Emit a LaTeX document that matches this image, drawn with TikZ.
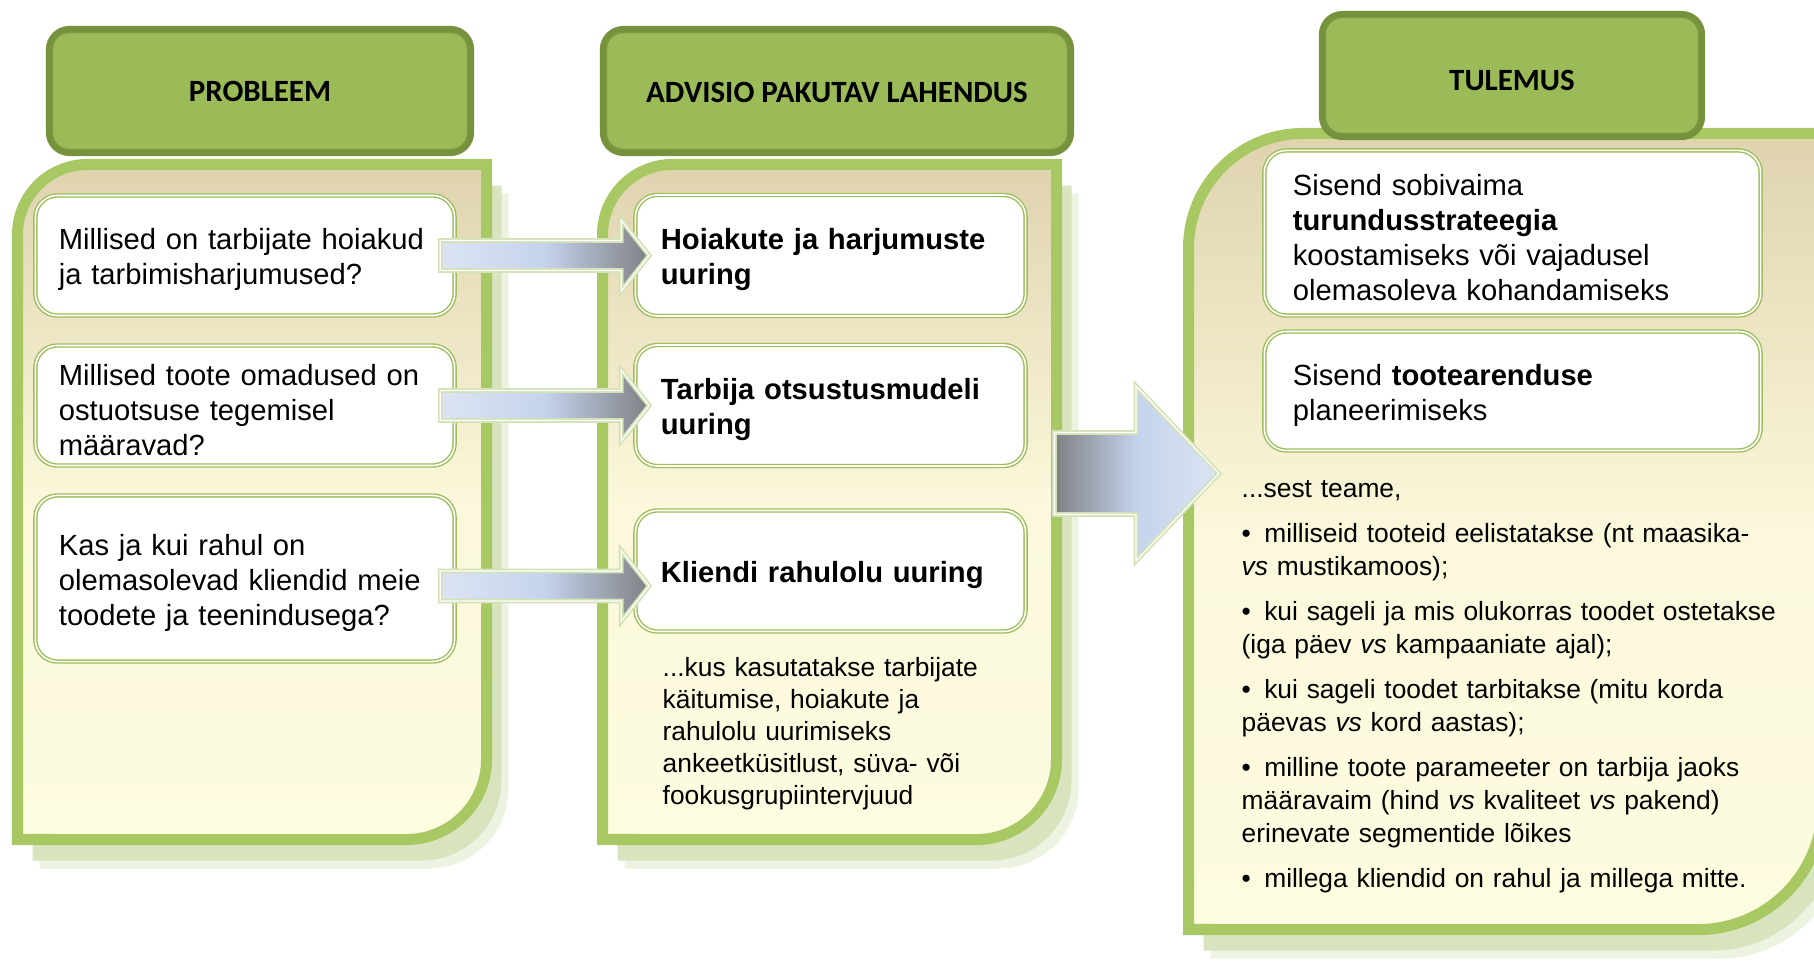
\documentclass[tikz,border=0pt]{standalone}
\usepackage{fontspec}
\setmainfont{Liberation Sans}
\newfontfamily\headfont{Carlito}
\usetikzlibrary{calc,shadows}
\definecolor{headgreen}{HTML}{9BBB59}
\definecolor{headdark}{HTML}{76923C}
\definecolor{panelline}{HTML}{A8C864}
\definecolor{cardline}{HTML}{9EBE5C}
\definecolor{shadowgreen}{HTML}{D7E4BD}
\definecolor{paneltop}{HTML}{DFD3AE}
\definecolor{panelbot}{HTML}{FEFCE0}
\definecolor{arrowline}{HTML}{D3E2B6}
\definecolor{arrowlight}{HTML}{DCE4F3}
\definecolor{arrowmid}{HTML}{C4D3EC}
\definecolor{arrowgrey}{HTML}{7F8084}

\begin{document}
\begin{tikzpicture}[x=0.01cm,y=0.01cm,
  panel/.style={draw=panelline, line width=0.11cm, top color=paneltop, bottom color=panelbot,
    middle color=panelbot!90!paneltop,
    drop shadow={shadow xshift=0.22cm, shadow yshift=-0.29cm, fill=shadowgreen, opacity=0.45},
    drop shadow={shadow xshift=0.15cm, shadow yshift=-0.21cm, fill=shadowgreen, opacity=1}},
  head/.style={rectangle, rounded corners=0.2cm, fill=headgreen, draw=headdark, line width=0.07cm,
    minimum height=1.23cm, font=\headfont\bfseries\fontsize{8.8}{10}\selectfont},
  headin/.style={draw=headdark!85!headgreen, line width=0.4pt, rounded corners=0.15cm},
  card/.style={rectangle, rounded corners=0.22cm, draw=cardline, double=white, double distance=0.45pt,
    line width=0.4pt, fill=white, align=left, inner ysep=0pt, font=\fontsize{8.3}{10}\selectfont,
    execute at begin node={\rule{0pt}{8.5pt}}},
  leftcard/.style={card, text width=3.72cm, inner xsep=0.235cm, minimum height=1.2cm},
  midcard/.style={card, text width=3.39cm, inner xsep=0.255cm, minimum height=1.21cm},
  rightcard/.style={card, text width=4.39cm, inner xsep=0.285cm, minimum height=1.19cm},
  note/.style={align=left, inner sep=0pt, font=\fontsize{7.5}{9.1}\selectfont},
  arrowbase/.style={draw=arrowline, double=white, double distance=0.35pt, line width=0.5pt},
  smallarrow/.style={arrowbase, left color=arrowlight, right color=arrowgrey, middle color=arrowmid,
    to path={let \p1=(\tikztostart), \p2=(\tikztotarget) in
      (\x1,\y1+0.15cm) -- (\x2-0.28cm,\y1+0.15cm) -- (\x2-0.28cm,\y1+0.355cm) -- (\x2,\y1)
      -- (\x2-0.28cm,\y1-0.355cm) -- (\x2-0.28cm,\y1-0.15cm) -- (\x1,\y1-0.15cm) -- cycle}},
  bigarrow/.style={arrowbase, left color=arrowgrey, right color=arrowlight, middle color=arrowmid,
    to path={let \p1=(\tikztostart), \p2=(\tikztotarget) in
      (\x1,\y1+0.41cm) -- (\x2-0.83cm,\y1+0.41cm) -- (\x2-0.83cm,\y1+0.875cm) -- (\x2,\y1)
      -- (\x2-0.83cm,\y1-0.875cm) -- (\x2-0.83cm,\y1-0.41cm) -- (\x1,\y1-0.41cm) -- cycle}}
]
\useasboundingbox (0,0) rectangle (1814,-961);

% columns
\draw[panel] (17.5,-839.5) -- (17.5,-234.5) arc[start angle=180, end angle=90, radius=0.7cm]
  -- (486.5,-164.5) -- (486.5,-759.5) arc[start angle=0, end angle=-90, radius=0.8cm] -- cycle;
\draw[panel] (602.5,-839.5) -- (602.5,-234.5) arc[start angle=180, end angle=90, radius=0.7cm]
  -- (1056.5,-164.5) -- (1056.5,-759.5) arc[start angle=0, end angle=-90, radius=0.8cm] -- cycle;
\draw[panel] (1188.5,-929.5) -- (1188.5,-248) arc[start angle=180, end angle=90, radius=1.145cm]
  -- (1822.5,-133.5) -- (1822.5,-805) arc[start angle=0, end angle=-90, radius=1.245cm] -- cycle;

% headings
\node[head, minimum width=4.21cm] (h1) at (260,-91) {PROBLEEM};
\node[head, minimum width=4.67cm] (h2) at (837,-91) {\raisebox{-0.5pt}[\height][\depth]{ADVISIO PAKUTAV LAHENDUS}};
\node[head, minimum width=3.79cm, minimum height=1.22cm] (h3) at (1512,-75.5) {\raisebox{-1.3pt}[\height][\depth]{TULEMUS}};
\foreach \h in {h1,h2,h3}
  \draw[headin] ([shift={(0.065cm,-0.065cm)}]\h.north west) rectangle ([shift={(-0.065cm,0.065cm)}]\h.south east);

% problem cards
\node[leftcard] (p1) at (245,-255.5) {Millised on tarbijate hoiakud\\ja tarbimisharjumused?};
\node[leftcard] (p2) at (245,-405.5) {Millised toote omadused on\\ostuotsuse tegemisel\\määravad?};
\node[leftcard, minimum height=1.66cm] (p3) at (245,-578.5) {Kas ja kui rahul on\\olemasolevad kliendid meie\\toodete ja teenindusega?};

% solution cards
\node[midcard] (s1) at (830.5,-255.5) {\textbf{Hoiakute ja harjumuste}\\\textbf{uuring}};
\node[midcard] (s2) at (830.5,-405.5) {\textbf{Tarbija otsustusmudeli}\\\textbf{uuring}};
\node[midcard] (s3) at (830.5,-571) {\textbf{Kliendi rahulolu uuring}};
\node[note, anchor=west, text width=3.4cm] (n2) at (662,-734) {...kus kasutatakse tarbijate\\käitumise, hoiakute ja\\rahulolu uurimiseks\\ankeetküsitlust, süva- või\\fookusgrupiintervjuud};

% result cards
\node[rightcard, minimum height=1.65cm] (t1) at (1512.5,-233) {Sisend sobivaima\\\textbf{turundusstrateegia}\\koostamiseks või vajadusel\\olemasoleva kohandamiseks};
\node[rightcard] (t2) at (1512.5,-391) {Sisend \textbf{tootearenduse}\\planeerimiseks};
\node[note, anchor=west, text width=5.6cm, font=\fontsize{7.5}{9.4}\selectfont] (n3) at (1241,-687) {...sest teame,\\[3.4pt]
\textbullet\hspace{3.8pt}milliseid tooteid eelistatakse (nt maasika-\\\textit{vs} mustikamoos);\\[3.4pt]
\textbullet\hspace{3.8pt}kui sageli ja mis olukorras toodet ostetakse\\(iga päev \textit{vs} kampaaniate ajal);\\[3.4pt]
\textbullet\hspace{3.8pt}kui sageli toodet tarbitakse (mitu korda\\päevas \textit{vs} kord aastas);\\[3.4pt]
\textbullet\hspace{3.8pt}milline toote parameeter on tarbija jaoks\\määravaim (hind \textit{vs} kvaliteet \textit{vs} pakend)\\erinevate segmentide lõikes\\[3.4pt]
\textbullet\hspace{3.8pt}millega kliendid on rahul ja millega mitte.};

% arrows
\draw[smallarrow] ([xshift=-0.15cm]p1.east) to ([xshift=0.145cm]s1.west);
\draw[smallarrow] ([xshift=-0.15cm]p2.east) to ([xshift=0.145cm]s2.west);
\draw[smallarrow] ([shift={(-0.15cm,-0.075cm)}]p3.east) to ([xshift=0.145cm]s3.west);
\coordinate (bigstart) at (1054.5,-473.5);
\coordinate (bigend) at (1219,-473.5);
\draw[bigarrow] (bigstart) to (bigend);
\end{tikzpicture}
\end{document}
